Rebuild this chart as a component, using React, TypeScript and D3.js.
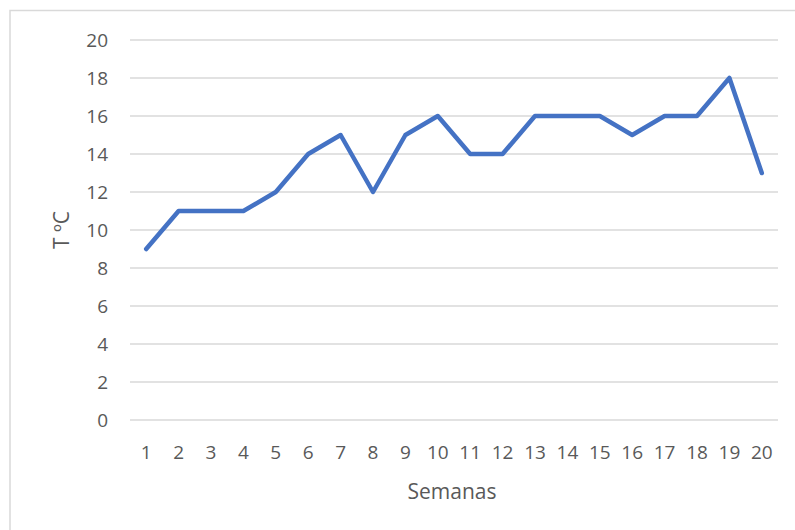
import React from 'react';
import * as d3 from 'd3';

const semanas = ['1', '2', '3', '4', '5', '6', '7', '8', '9', '10', '11', '12', '13', '14', '15', '16', '17', '18', '19', '20'];
const temperatura = [9, 11, 11, 11, 12, 14, 15, 12, 15, 16, 14, 14, 16, 16, 16, 15, 16, 16, 18, 13];
const yTicks = [0, 2, 4, 6, 8, 10, 12, 14, 16, 18, 20];

const width = 795;
const height = 530;
const margin = { top: 40, right: 17, bottom: 110, left: 130 };
const font = "'Open Sans', 'Noto Sans', sans-serif";

export default function App() {
  const innerWidth = width - margin.left - margin.right;
  const innerHeight = height - margin.top - margin.bottom;

  const x = d3.scaleBand().domain(semanas).range([0, innerWidth]);
  const y = d3.scaleLinear().domain([0, 20]).range([innerHeight, 0]);

  const line = d3.line<number>()
    .x((_, i) => x(semanas[i])! + x.bandwidth() / 2)
    .y(d => y(d));

  return (
    <svg width={width} height={height} style={{ position: 'absolute', left: 0, top: 0 }}>
      <rect x={10} y={10.5} width={800} height={540} fill="white" stroke="#d9d9d9" strokeWidth={1.5} />
      <g transform={`translate(${margin.left},${margin.top})`}>
        {yTicks.map(t => (
          <g key={t}>
            <line x1={0} x2={innerWidth} y1={y(t)} y2={y(t)} stroke="#d9d9d9" strokeWidth={1.3} />
            <text x={-22} y={y(t)} dy="0.35em" textAnchor="end" fill="#595959" fontSize={19} fontFamily={font}>{t}</text>
          </g>
        ))}
        {semanas.map(s => (
          <text key={s} x={x(s)! + x.bandwidth() / 2} y={innerHeight + 32} dy="0.35em" textAnchor="middle" fill="#595959" fontSize={19} fontFamily={font}>{s}</text>
        ))}
        <path d={line(temperatura)!} fill="none" stroke="#4472c4" strokeWidth={4.5} strokeLinejoin="round" strokeLinecap="round" />
        <text x={innerWidth / 2 - 2} y={innerHeight + 72} dy="0.35em" textAnchor="middle" fill="#595959" fontSize={21} fontFamily={font}>Semanas</text>
        <text transform={`translate(${-68},${innerHeight / 2}) rotate(-90)`} dy="0.35em" textAnchor="middle" fill="#595959" fontSize={21} fontFamily={font}>T ºC</text>
      </g>
    </svg>
  );
}
